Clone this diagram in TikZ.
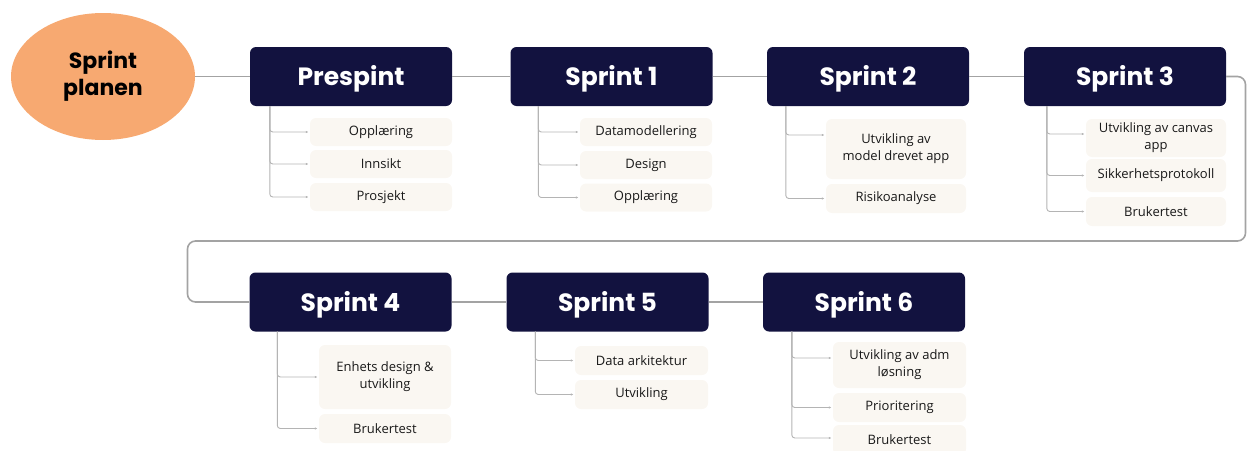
\documentclass[tikz,border=0pt]{standalone}
\usepackage{fontspec}
\setmainfont{Open Sans}
\newfontfamily\headfont{Poppins}
\usetikzlibrary{shapes.geometric,arrows.meta}

\definecolor{navy}{HTML}{12123F}
\definecolor{peach}{HTML}{F7A971}
\definecolor{cream}{HTML}{FAF7F2}
\definecolor{mainline}{HTML}{A3A3A3}
\definecolor{twigline}{HTML}{B4B4B4}

\tikzset{
  sprintbox/.style={fill=navy, rounded corners=6pt, inner sep=0pt,
    minimum width=202pt, minimum height=59pt, text=white,
    text height=18pt, text depth=0pt,
    font=\headfont\bfseries\fontsize{25}{30}\selectfont},
  taskbox/.style={fill=cream, rounded corners=6pt, inner sep=0pt,
    align=center, text=black!90,
    font=\fontsize{13}{17}\selectfont},
  chain/.style={draw=mainline, line width=1.6pt},
  twig/.style={draw=twigline, line width=0.9pt, rounded corners=3pt,
    -{Latex[length=2.5pt,width=2.5pt]}, shorten >=1.5pt},
}

\begin{document}
\begin{tikzpicture}[x=1pt,y=-1pt]
\useasboundingbox (0,0) rectangle (1247,450);

% start bubble
\node[ellipse, fill=peach, minimum width=184pt, minimum height=127pt, inner sep=0pt,
      align=center, font=\headfont\bfseries\fontsize{22}{27}\selectfont]
  (plan) at (103,76.5) {\rule{0pt}{6pt}Sprint\\planen};

% sprint headers
\node[sprintbox] (pre) at (351,76.5)   {Prespint};
\node[sprintbox] (s1)  at (611.5,76.5) {Sprint 1};
\node[sprintbox] (s2)  at (868,76.5)   {Sprint 2};
\node[sprintbox] (s3)  at (1125,76.5)  {Sprint 3};
\node[sprintbox] (s4)  at (350.5,302)  {Sprint 4};
\node[sprintbox] (s5)  at (607.5,302)  {Sprint 5};
\node[sprintbox] (s6)  at (864,302)    {Sprint 6};

% main chain
\coordinate (rt) at (1245.5,241);
\coordinate (lt) at (187.5,241);
\draw[chain] (plan.east) -- (pre.west);
\draw[chain] (pre.east) -- (s1.west);
\draw[chain] (s1.east) -- (s2.west);
\draw[chain] (s2.east) -- (s3.west);
\draw[chain, rounded corners=8pt] (s3.east) -| (rt) -- (lt) |- (s4.west);
\draw[chain] (s4.east) -- (s5.west);
\draw[chain] (s5.east) -- (s6.west);

% Prespint tasks
\node[taskbox, minimum width=142pt, minimum height=28pt] (pa) at (381,132) {Opplæring};
\node[taskbox, minimum width=142pt, minimum height=28pt] (pb) at (381,164) {Innsikt};
\node[taskbox, minimum width=142pt, minimum height=28pt] (pc) at (381,197) {Prosjekt};
\draw[twig] ([xshift=20pt]pre.south west) |- (pa.west);
\draw[twig] ([xshift=20pt]pre.south west) |- (pb.west);
\draw[twig] ([xshift=20pt]pre.south west) |- (pc.west);

% Sprint 1 tasks
\node[taskbox, minimum width=132pt, minimum height=28pt] (aa) at (646,132) {Datamodellering};
\node[taskbox, minimum width=132pt, minimum height=28pt] (ab) at (646,165) {Design};
\node[taskbox, minimum width=132pt, minimum height=28pt] (ac) at (646,197.5) {Opplæring};
\draw[twig] ([xshift=28pt]s1.south west) |- (aa.west);
\draw[twig] ([xshift=28pt]s1.south west) |- (ab.west);
\draw[twig] ([xshift=28pt]s1.south west) |- (ac.west);

% Sprint 2 tasks
\node[taskbox, minimum width=140pt, minimum height=60pt] (ba) at (896,149) {Utvikling av\\model drevet app};
\node[taskbox, minimum width=140pt, minimum height=29pt] (bb) at (896,198.5) {Risikoanalyse};
\draw[twig] ([xshift=19pt]s2.south west) |- ([yshift=14pt]ba.west);
\draw[twig] ([xshift=19pt]s2.south west) |- (bb.west);

% Sprint 3 tasks
\node[taskbox, minimum width=140pt, minimum height=38pt] (ca) at (1156,138) {Utvikling av canvas\\app};
\node[taskbox, minimum width=140pt, minimum height=33pt] (cb) at (1156,175.5) {Sikkerhetsprotokoll};
\node[taskbox, minimum width=140pt, minimum height=29pt] (cc) at (1156,211.5) {Brukertest};
\draw[twig] ([xshift=23pt]s3.south west) |- ([yshift=4pt]ca.west);
\draw[twig] ([xshift=23pt]s3.south west) |- (cb.west);
\draw[twig] ([xshift=23pt]s3.south west) |- (cc.west);

% Sprint 4 tasks
\node[taskbox, minimum width=132pt, minimum height=64pt] (da) at (385,377) {Enhets design \&\\utvikling};
\node[taskbox, minimum width=132pt, minimum height=29pt] (db) at (385,428.5) {Brukertest};
\draw[twig] ([xshift=28pt]s4.south west) |- (da.west);
\draw[twig] ([xshift=28pt]s4.south west) |- (db.west);

% Sprint 5 tasks
\node[taskbox, minimum width=133pt, minimum height=29pt] (ea) at (641.5,360.5) {Data arkitektur};
\node[taskbox, minimum width=133pt, minimum height=29pt] (eb) at (641.5,394.5) {Utvikling};
\draw[twig] ([xshift=29pt]s5.south west) |- (ea.west);
\draw[twig] ([xshift=29pt]s5.south west) |- (eb.west);

% Sprint 6 tasks
\node[taskbox, minimum width=133pt, minimum height=46pt] (fa) at (899.5,365) {Utvikling av adm\\løsning};
\node[taskbox, minimum width=133pt, minimum height=29pt] (fb) at (899.5,407.5) {Prioritering};
\node[taskbox, minimum width=133pt, minimum height=30pt] (fc) at (899.5,440) {Brukertest};
\draw[twig] ([xshift=29pt]s6.south west) |- ([yshift=7pt]fa.west);
\draw[twig] ([xshift=29pt]s6.south west) |- (fb.west);
\draw[twig] ([xshift=29pt]s6.south west) |- ([yshift=2pt]fc.west);
\end{tikzpicture}
\end{document}
